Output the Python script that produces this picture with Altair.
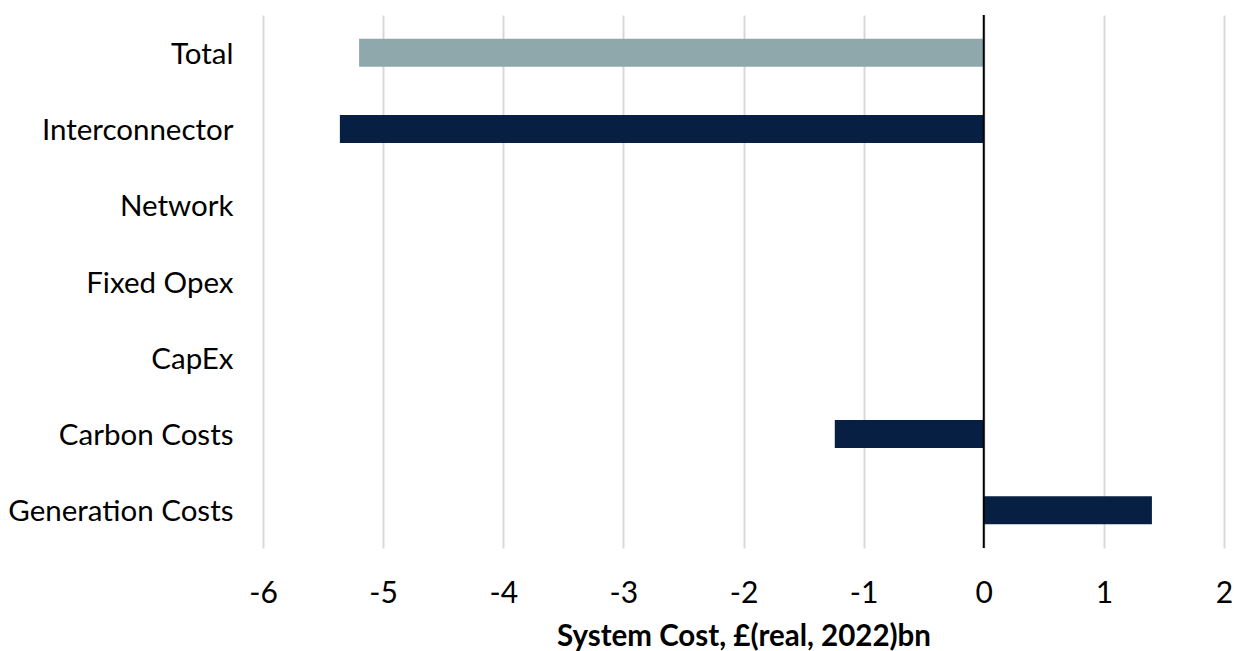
import altair as alt
import pandas as pd

# System cost change by component (£bn, real 2022)
categories = ["Total", "Interconnector", "Network", "Fixed Opex", "CapEx",
              "Carbon Costs", "Generation Costs"]
values = [-5.20, -5.36, 0.0, 0.0, 0.0, -1.24, 1.40]
groups = ["total", "part", "part", "part", "part", "part", "part"]
x_ticks = [-6, -5, -4, -3, -2, -1, 0, 1, 2]

df = pd.DataFrame({"category": categories, "value": values, "group": groups})

FONT = "Lato"

bars = alt.Chart(df).mark_bar().encode(
    x=alt.X("value:Q",
            scale=alt.Scale(domain=[-6, 2], nice=False, zero=False),
            axis=alt.Axis(values=x_ticks, title="System Cost, £(real, 2022)bn",
                          labelExpr="replace(format(datum.value, 'd'), '−', '-')",
                          grid=True, gridColor="#d9d9d9", gridWidth=2,
                          domain=False, ticks=False, labelFontSize=30,
                          labelFlush=False, labelOverlap=False,
                          labelPadding=30, labelColor="#000000", labelFont=FONT,
                          titleFont=FONT, titleFontSize=29.5, titleFontWeight="bold",
                          titleColor="#000000", titlePadding=14)),
    y=alt.Y("category:N", sort=categories,
            scale=alt.Scale(paddingInner=0.633, paddingOuter=0.31),
            axis=alt.Axis(title=None, domain=False, ticks=False, grid=False,
                          labelFontSize=29.5, labelPadding=30, labelColor="#000000",
                          labelFont=FONT, labelLimit=400, labelOffset=2)),
    color=alt.Color("group:N",
                    scale=alt.Scale(domain=["total", "part"], range=["#8fa8ac", "#061f42"]),
                    legend=None),
)

zero = alt.Chart(pd.DataFrame({"x": [0]})).mark_rule(color="#000000", strokeWidth=2).encode(
    x="x:Q"
)

chart = (bars + zero).properties(
    width=961, height=533,
    background="#ffffff",
    autosize=alt.AutoSizeParams(type="none"),
    padding={"left": 263, "top": 15, "right": 10, "bottom": 103},
).configure_view(strokeWidth=0)

chart.save("out.html", embed_options={"renderer": "svg", "actions": False})
